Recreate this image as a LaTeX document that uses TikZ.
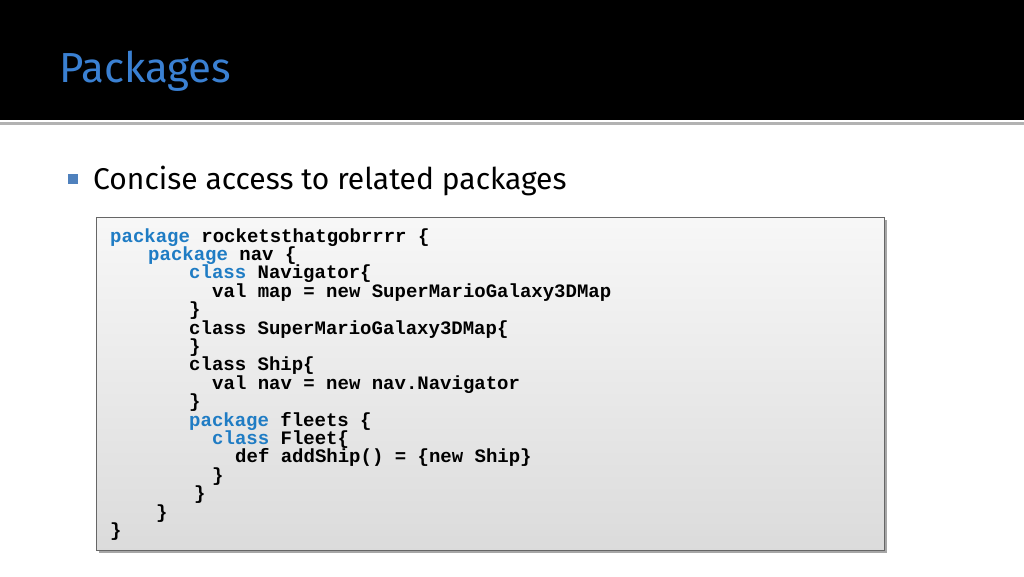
\documentclass[tikz,border=0pt]{standalone}
\usepackage{fontspec}
\setmainfont{Fira Sans}
\newfontfamily\codefont{Liberation Mono}
\begin{document}
\begin{tikzpicture}[x=1pt,y=-1pt,
  code/.style={anchor=base west,inner sep=0pt,font=\codefont\bfseries\fontsize{19}{19}\selectfont},
  kw/.style={text=kwblue}]
\definecolor{kwblue}{HTML}{1F7CC4}
\definecolor{titleblue}{HTML}{3A80D2}
\useasboundingbox (0,0) rectangle (1024,576);
\fill[white] (0,0) rectangle (1024,576);
\fill[black] (0,0) rectangle (1024,120);
\fill[gray!60] (0,122) rectangle (1024,125);
\node[anchor=base west,inner sep=0pt,text=titleblue,font=\fontsize{42}{42}\selectfont] (title) at (59,82) {Packages};
\fill[fill={rgb,255:red,79;green,129;blue,189}] (68,174) rectangle (78,184) coordinate (bul);
\node[anchor=base west,inner sep=0pt,font=\fontsize{30}{30}\selectfont] (sub) at (93,189) {Concise access to related packages};
\fill[gray!70] (99,220) rectangle (887,553);
\shade[top color=gray!6,bottom color=gray!28,draw=gray!80!black] (96,217) rectangle (884,550);
\def\ly#1{(236+18.4*#1)}
\node[code] (l0) at (110,242) {\textcolor{kwblue}{package} rocketsthatgobrrrr \{};
\node[code] (l1) at (148,260.4) {\textcolor{kwblue}{package} nav \{};
\node[code] (l2) at (189,278.8) {\textcolor{kwblue}{class} Navigator\{};
\node[code] (l3) at (212,297.2) {val map = new SuperMarioGalaxy3DMap};
\node[code] (l4) at (189,315.6) {\}};
\node[code] (l5) at (189,334) {class SuperMarioGalaxy3DMap\{};
\node[code] (l6) at (189,352.4) {\}};
\node[code] (l7) at (189,370.8) {class Ship\{};
\node[code] (l8) at (212,389.2) {val nav = new nav.Navigator};
\node[code] (l9) at (189,407.6) {\}};
\node[code] (l10) at (189,426) {\textcolor{kwblue}{package} fleets \{};
\node[code] (l11) at (212,444.4) {\textcolor{kwblue}{class} Fleet\{};
\node[code] (l12) at (235,462.8) {def addShip() = \{new Ship\}};
\node[code] (l13) at (212,481.2) {\}};
\node[code] (l14) at (194,499.6) {\}};
\node[code] (l15) at (156,518) {\}};
\node[code] (l16) at (110,536.4) {\}};
\end{tikzpicture}
\end{document}
